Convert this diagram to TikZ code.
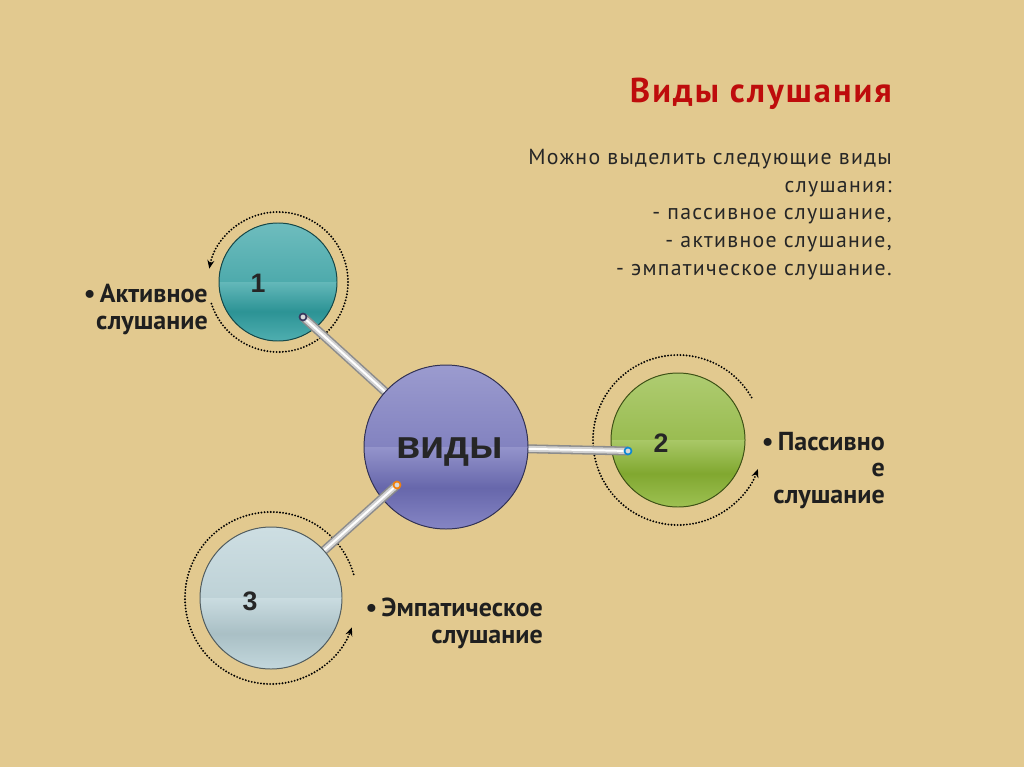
\documentclass[tikz,border=0pt]{standalone}
\usepackage{fontspec}
\setmainfont{PT Sans}
\newfontfamily\widefont[LetterSpace=6]{PT Sans}
\newfontfamily\ballfont{Liberation Sans}
\usetikzlibrary{arrows.meta}

\definecolor{paper}{RGB}{226,201,143}
\definecolor{titlered}{RGB}{190,12,12}
\definecolor{tealball}{RGB}{48,160,162}
\definecolor{violetball}{RGB}{112,112,186}
\definecolor{greenball}{RGB}{140,182,52}
\definecolor{iceball}{RGB}{184,208,214}

\tikzset{
  sphere/.style={circle, inner sep=0pt, draw=#1!45!black, line width=0.7pt,
    path picture={
      \fill[top color=#1!70!white, bottom color=#1!95!black]
        (path picture bounding box.north west) rectangle (path picture bounding box.east);
      \fill[top color=#1!75!white, bottom color=#1!85!white, middle color=#1!92!black]
        (path picture bounding box.west) rectangle (path picture bounding box.south east);
    }},
  rod/.style={line width=6.4pt, draw=black!45,
    postaction={draw=black!18, line width=4.2pt},
    postaction={draw=white, line width=1.4pt}},
  rodend/.style={draw=#1, line width=1.2pt, fill=black!15},
  orbit/.style={line width=1.5pt, dash pattern=on 0pt off 2.2pt, line cap=round,
    -{Stealth[length=6pt,width=5pt]}},
  num/.style={inner sep=0pt, text=black!85, font=\ballfont\bfseries\fontsize{19}{19}\selectfont},
  side/.style={inner sep=0pt, align=right, text=black!88,
    font=\bfseries\fontsize{18.5}{18.8}\selectfont}
}

\begin{document}
\begin{tikzpicture}[x=0.25mm, y=-0.25mm]
  \fill[paper] (0,0) rectangle (1024,767);
  \useasboundingbox (0,0) rectangle (1024,767);

  % centres and rod ends
  \coordinate (vc) at (446,447);
  \coordinate (c3) at (271,598);
  \coordinate (r1) at (303,317);
  \coordinate (r2) at (628,451);
  \coordinate (r3) at (397,485);

  % dotted orbits
  \draw[orbit] ([shift={(-198:70)}]278,282) arc[start angle=-198, end angle=-529, radius=70];
  \draw[orbit] ([shift={(-30:85)}]678,440) arc[start angle=-30, end angle=-340, radius=85];
  \draw[orbit] ([shift={(-16:86)}]c3) arc[start angle=-16, end angle=-340, radius=86];

  % balls 1 and 2, rods under the centre
  \node[sphere=tealball, minimum size=29.5mm] (s1) at (278,282) {};
  \node[sphere=greenball, minimum size=33.5mm] (s2) at (678,440) {};
  \draw[rod] (r1) -- (vc);
  \draw[rod] (vc) -- (r2);
  \draw[rodend=violetball!50!black] (r1) circle (3.5);
  \draw[rodend=cyan!70!blue] (r2) circle (3.5);

  % centre, rod 3, ball 3
  \node[sphere=violetball, minimum size=41mm] (v) at (vc) {};
  \draw[rod] (r3) -- (c3);
  \draw[rodend=orange!80!brown] (r3) circle (3.5);
  \node[sphere=iceball, minimum size=35.5mm] (s3) at (c3) {};

  % ball texts
  \node[num] (n1) at (258,283) {1};
  \node[num] (n2) at (661,443) {2};
  \node[num] (n3) at (250,601) {3};
  \node[num, font=\ballfont\bfseries\fontsize{28}{28}\selectfont] (nv) at (450,452) {виды};

  % texts
  \node[anchor=base east, inner sep=0pt, text=titlered,
    font=\widefont\bfseries\fontsize{24.5}{28}\selectfont] (title) at (892,103) {Виды слушания};
  \node[anchor=base east, inner sep=0pt, align=right, text=black!85,
    font=\widefont\fontsize{15.5}{19.6}\selectfont] (list) at (892,275)
    {Можно выделить следующие виды\\ слушания:\\ - пассивное слушание,\\
     - активное слушание,\\ - эмпатическое слушание.};
  \node[side, anchor=base east] (t1) at (208,329) {•\,Активное\\ слушание};
  \node[side, anchor=base east] (t2) at (885,503) {•\,Пассивно\\ е\\ слушание};
  \node[side, anchor=base east] (t3) at (543,643) {•\,Эмпатическое\\ слушание};
\end{tikzpicture}
\end{document}
